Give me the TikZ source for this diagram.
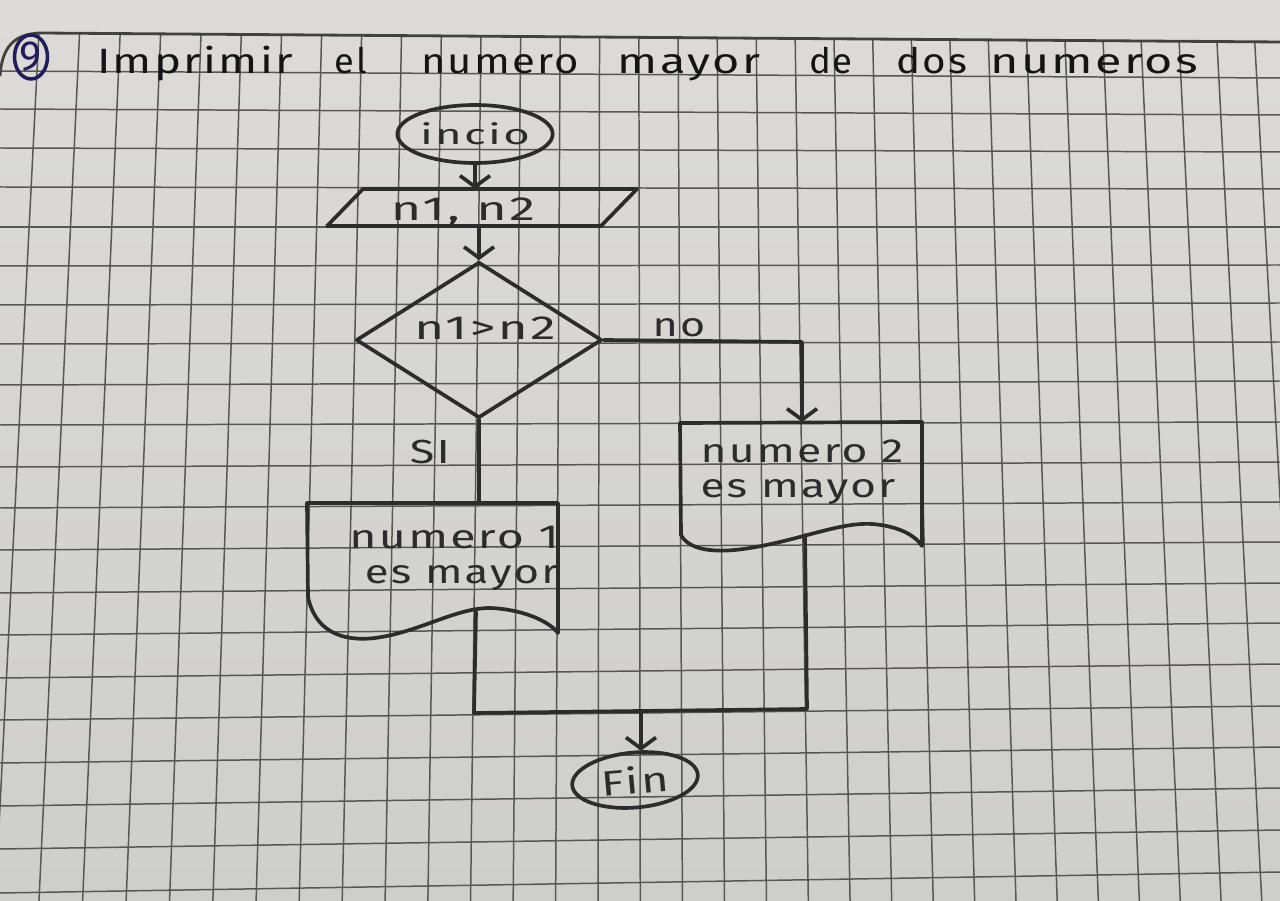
\documentclass[tikz,border=0pt]{standalone}
\usepackage{graphicx}
\usepackage{fontspec}
\newfontfamily\handfont{Fira Sans}[LetterSpace=5]
\usetikzlibrary{shapes.geometric,arrows.meta,calc}
\definecolor{papertop}{RGB}{220,219,215}
\definecolor{paperbot}{RGB}{206,206,203}
\definecolor{gridc}{RGB}{88,88,82}
\definecolor{pencil}{RGB}{44,44,44}
\definecolor{penink}{RGB}{20,20,20}
\definecolor{blueink}{RGB}{34,28,92}
\newcommand\hwtext[2][1.3]{\scalebox{#1}[1]{#2}}
\begin{document}
\begin{tikzpicture}[x=0.02cm,y=-0.02cm,
  gridline/.style={draw=gridc,line width=0.85pt},
  pencil line/.style={draw=pencil,line width=2.1pt,line cap=round,line join=round},
  flow/.style={pencil line,-{Straight Barb[length=0.22cm,width=0.6cm]}},
  hand/.style={text=pencil,font=\handfont\fontsize{19}{20}\selectfont,inner sep=0pt},
  titleword/.style={text=penink,font=\handfont\fontsize{20}{24}\selectfont,inner sep=0pt,anchor=base},
  terminal/.style={pencil line,ellipse,inner sep=0pt},
  decision/.style={pencil line,diamond,inner sep=0pt}
]
% paper
\useasboundingbox (0,0) rectangle (1280,901);
\shade[top color=papertop,bottom color=paperbot] (0,0) rectangle (1280,901);
% vertical grid lines
\foreach \i in {-11,...,20}{
  \pgfmathsetmacro\xm{477+40.8*\i-0.05*\i*\i}
  \pgfmathsetmacro\xt{620+(\xm-620)*0.972}
  \pgfmathsetmacro\xb{620+(\xm-620)*1.045}
  \pgfmathsetmacro\yt{33+9*\xt/1280}
  \draw[gridline] (\xt,\yt) -- (\xb,901);
}
% horizontal grid lines
\foreach \a/\b in {71/78,109/115,148/152,187/189,227/227,266/265,305/303,344/342,385/381,425/422,467/462,508/502,550/542,593/583,635/623,678/664,720/706,763/747,806/788,849/830,893/872}{
  \draw[gridline] (0,\a) -- (1280,\b);
}
% heavy top margin line
\draw[draw=gridc!75!black,line width=1.6pt] (0,76) .. controls (2,46) and (15,34) .. (40,33) -- (1280,42);

% circled number
\node[draw=blueink,ellipse,line width=2pt,minimum width=0.66cm,minimum height=0.88cm,inner sep=0pt,text=blueink,font=\fontspec{Fira Sans}\fontsize{24}{26}\selectfont] (num) at (31,57) {9};

% title
\node[titleword] (w1) at (195,74) {\hwtext[1.3]{Imprimir}};
\node[titleword] (w2) at (351,74) {\hwtext[1.03]{el}};
\node[titleword] (w3) at (500,74) {\hwtext[1.19]{numero}};
\node[titleword] (w4) at (689,74) {\hwtext[1.33]{mayor}};
\node[titleword] (w5) at (831,74) {\hwtext[1.04]{de}};
\node[titleword] (w6) at (932,74) {\hwtext[1.15]{dos}};
\node[titleword] (w7) at (1094,74) {\hwtext[1.38]{numeros}};

% flowchart shapes
\node[terminal,minimum width=3cm,minimum height=1.16cm,hand,font=\handfont\fontsize{16}{18}\selectfont] (ini) at (475,134) {\hwtext[1.62]{incio}};
\draw[pencil line] (327,226) -- (601,226) -- (637,189) -- (363,189) -- cycle;
\coordinate (iotop) at (477,189);
\coordinate (iobot) at (477,226);
\node[hand] (iot) at (463,212) {\hwtext[1.56]{n1, n2}};
\node[decision,minimum width=4.92cm,minimum height=3.12cm] (dec) at (479,340) {};
\node[hand] (dect) at (485,328) {\hwtext[1.53]{n1>n2}};
\node[hand] (nol) at (679,328) {\hwtext[1.29]{no}};
\node[hand] (sil) at (430,452) {\hwtext[1.35]{SI}};

% document boxes
\draw[pencil line] (680,423) -- (681,535) .. controls (690,552) and (720,553) .. (750,548)
  .. controls (800,540) and (840,522) .. (872,524) .. controls (898,526) and (915,535) .. (922,546) -- (922,422) -- cycle;
\node[hand,align=left] (b2) at (802,472) {\hwtext[1.33]{numero 2}\\\hwtext[1.32]{es mayor}};
\draw[pencil line] (307,503) -- (308,597) .. controls (315,630) and (340,642) .. (375,638)
  .. controls (420,632) and (455,608) .. (490,608) .. controls (520,609) and (548,620) .. (558,633) -- (558,503) -- cycle;
\node[hand,align=center] (b1) at (454,558) {\hwtext[1.39]{numero 1}\\\hspace*{0.3cm}\hwtext[1.31]{es mayor}};

\node[terminal,rotate=5,minimum width=2.52cm,minimum height=1.1cm,hand,font=\handfont\fontsize{20}{24}\selectfont] (fin) at (635,780) {\hwtext[1.34]{Fin}};

% connector points
\coordinate (b1top) at (477,503);
\coordinate (b2top) at (802,422);
\coordinate (nocorner) at (802,342);
\coordinate (b1out) at (476,612);
\coordinate (b2out) at (805,535);
\coordinate (mergeL) at (474,713);
\coordinate (mergeR) at (807,709);
\coordinate (mergeM) at (641,711);

% connectors
\draw[flow] (ini.south) -- (ini.south |- iotop);
\draw[flow] (iobot -| dec.north) -- (dec.north);
\draw[pencil line] (dec.south) -- (dec.south |- b1top);
\draw[flow] (dec.east) -- (nocorner) -- (b2top);
\draw[pencil line] (b1out) -- (mergeL) -- (mergeR) -- (b2out);
\draw[flow] (mergeM) -- (mergeM |- fin.north);
\end{tikzpicture}
\end{document}
